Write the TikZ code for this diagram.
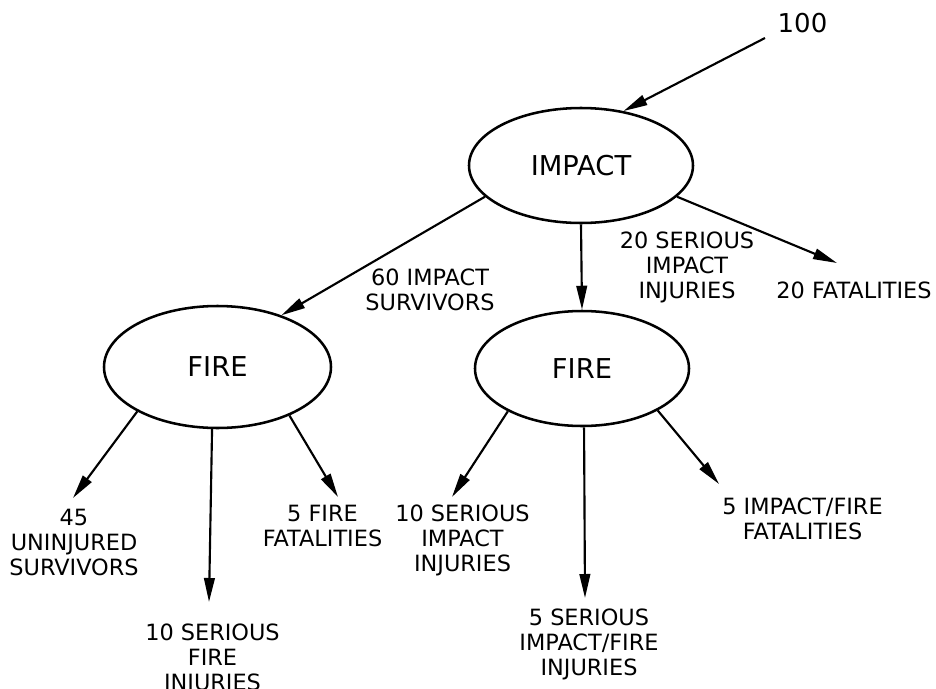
\documentclass[tikz,border=0pt]{standalone}
\usepackage{fontspec}
\setmainfont{DejaVu Sans}
\usetikzlibrary{shapes.geometric,arrows.meta}
\begin{document}
\begin{tikzpicture}[x=0.75pt,y=-0.75pt,
  state/.style={ellipse,draw,line width=1.9pt,inner sep=0pt,font=\fontsize{20.5}{24}\selectfont},
  lbl/.style={align=center,inner sep=0pt,anchor=north,font=\fontsize{16.8}{18.75}\selectfont},
  flow/.style={line width=1.6pt,-{Triangle[length=18pt,width=8pt]}}]
\useasboundingbox (0,0) rectangle (936,689);

% ellipses
\node[state,minimum width=168pt,minimum height=86.25pt] (impact) at (581,165.5) {IMPACT};
\node[state,minimum width=170.25pt,minimum height=91.5pt] (fire1) at (217.5,367) {FIRE};
\node[state,minimum width=160.5pt,minimum height=86.25pt] (fire2) at (582,368.5) {FIRE};

% labels
\node[inner sep=0pt,font=\fontsize{19.5}{23}\selectfont] (hundred) at (802.5,23.5) {100};
\node[lbl] (l20ser) at (687,232) {20 SERIOUS\\IMPACT\\INJURIES};
\node[lbl] (l20fat) at (854,282) {20 FATALITIES};
\node[lbl] (l60) at (430,269) {60 IMPACT\\SURVIVORS};
\node[lbl] (l45) at (74,509) {45\\UNINJURED\\SURVIVORS};
\node[lbl] (l10fire) at (212.5,624) {10 SERIOUS\\FIRE\\INJURIES};
\node[lbl] (l5fire) at (322.5,505) {5 FIRE\\FATALITIES};
\node[lbl] (l10imp) at (462.5,505) {10 SERIOUS\\IMPACT\\INJURIES};
\node[lbl] (l5ser) at (589,609) {5 SERIOUS\\IMPACT/FIRE\\INJURIES};
\node[lbl] (l5if) at (802.5,498) {5 IMPACT/FIRE\\FATALITIES};

% free ends
\coordinate (c100) at (765,38);
\coordinate (e20fat) at (837,263);
\coordinate (e45) at (73,498);
\coordinate (e10fire) at (209,602);
\coordinate (e5fire) at (338,497);
\coordinate (e10imp) at (452,497);
\coordinate (e5ser) at (585,598);
\coordinate (e5if) at (719,484);

% connectors
\draw[flow] (c100) -- (impact.52.6);
\draw[flow] (impact.south) -- (fire2.north);
\draw[flow] (impact.-18.4) -- (e20fat);
\draw[flow] (impact.198.6) -- (fire1.39.4);
\draw[flow] (fire1.209.7) -- (e45);
\draw[flow] (fire1.265.9) -- (e10fire);
\draw[flow] (fire1.-34) -- (e5fire);
\draw[flow] (fire2.210.4) -- (e10imp);
\draw[flow] (fire2.272.9) -- (e5ser);
\draw[flow] (fire2.-29.5) -- (e5if);
\end{tikzpicture}
\end{document}
